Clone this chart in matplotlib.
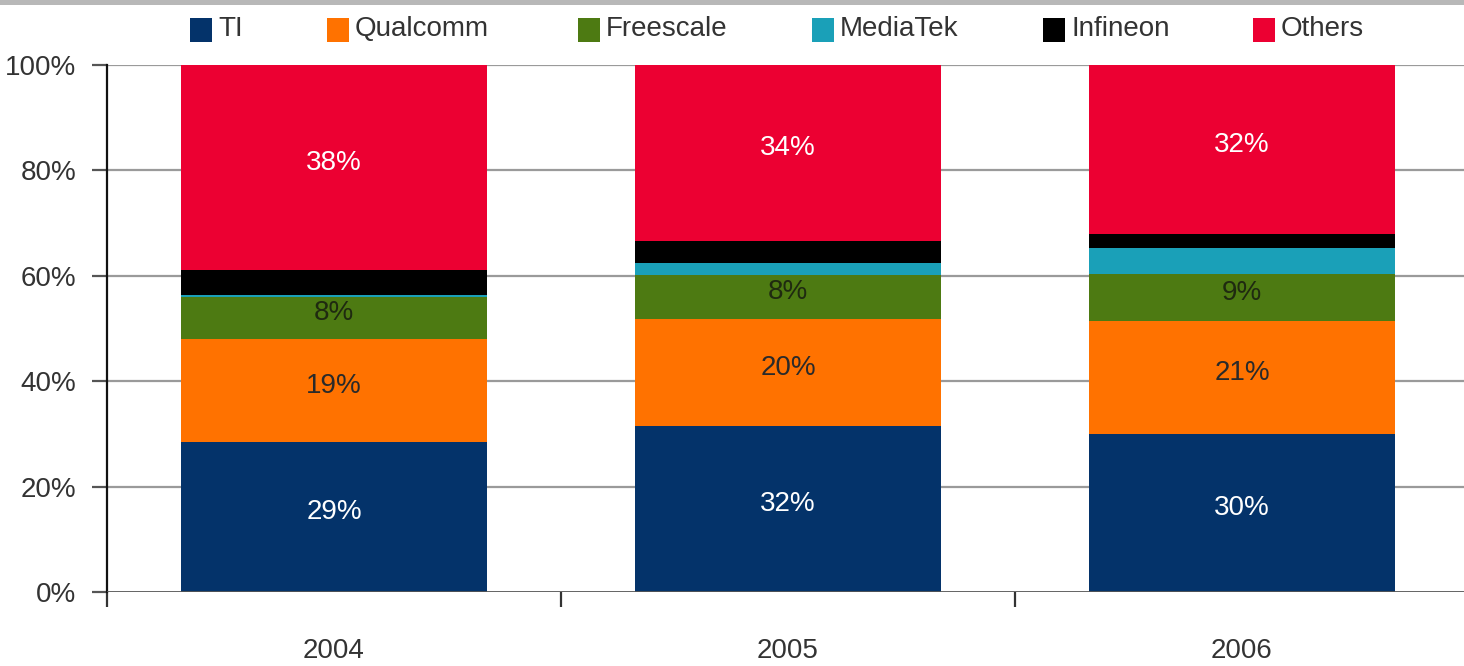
import matplotlib
matplotlib.use("Agg")
import matplotlib.pyplot as plt
from matplotlib.patches import Rectangle
import numpy as np

years = ["2004", "2005", "2006"]
companies = ["TI", "Qualcomm", "Freescale", "MediaTek", "Infineon", "Others"]
ti        = [28.4, 31.5, 30.0]
qualcomm  = [19.6, 20.3, 21.4]
freescale = [8.0, 8.4, 8.9]
mediatek  = [0.3, 2.2, 5.0]
infineon  = [4.8, 4.2, 2.6]
others    = [38.9, 33.4, 32.1]
series = [ti, qualcomm, freescale, mediatek, infineon, others]
colors = ["#04336a", "#ff7200", "#4d7a12", "#1aa0b8", "#000000", "#ec0032"]

# Shown labels (rounded in original)
label_ti = ["29%", "32%", "30%"]
label_q = ["19%", "20%", "21%"]
label_f = ["8%", "8%", "9%"]
label_o = ["38%", "34%", "32%"]
labels = {0: (label_ti, "white"), 1: (label_q, "#2a2a2a"),
          2: (label_f, "#1f2a10"), 5: (label_o, "white")}
yticks = [0, 20, 40, 60, 80, 100]
ytick_labels = ["0%", "20%", "40%", "60%", "80%", "100%"]

plt.rcParams['font.family'] = ['Liberation Sans', 'DejaVu Sans']

W, H = 1464, 666
fig = plt.figure(figsize=(W / 100, H / 100), dpi=100)
fig.patch.set_facecolor("white")
# top gray band
fig.add_artist(Rectangle((0, 1 - 5 / H), 1, 5 / H, transform=fig.transFigure,
                         facecolor="#b8b8b8", edgecolor="none"))

ax = fig.add_axes([107 / W, (H - 592) / H, (W - 107) / W, (592 - 65) / H])
x = np.arange(len(years))
bw = 0.676
bottom = np.zeros(len(years))
for i, (vals, c) in enumerate(zip(series, colors)):
    vals = np.array(vals)
    ax.bar(x, vals, bw, bottom=bottom, color=c, edgecolor="none", zorder=3, label=companies[i])
    if i in labels:
        txts, tc = labels[i]
        for j in range(len(years)):
            ax.text(x[j], bottom[j] + vals[j] / 2 + 0.9, txts[j], ha="center", va="center",
                    color=tc, fontsize=20, zorder=4)
    bottom += vals

ax.set_xlim(-0.5, 2.5 - 5 / 454)
ax.set_ylim(0, 100)
ax.set_yticks(yticks)
ax.set_yticklabels(ytick_labels)
for yv in yticks[1:]:
    ax.axhline(yv, color="#9a9a9a", lw=1.6, zorder=1)
ax.axhline(0, color="#555555", lw=2, zorder=5)
ax.set_xticks([-0.5, 0.5, 1.5], minor=False)
ax.set_xticklabels(["", "", ""])
ax.set_xticks(x, minor=True)
ax.set_xticklabels(years, minor=True)
ax.tick_params(axis="x", which="major", length=11, width=1.6, color="#333333", direction="out")
ax.tick_params(axis="x", which="minor", length=0, pad=33, labelsize=20, labelcolor="#333333")
ax.tick_params(axis="y", length=11, width=1.6, color="#555555", pad=11, labelsize=20, labelcolor="#333333")
for s in ["top", "right", "bottom"]:
    ax.spines[s].set_visible(False)
ax.spines["left"].set_color("#111111")
ax.spines["left"].set_linewidth(1.6)
ax.set_facecolor("white")

# legend
leg_x = [190, 327, 578, 812, 1043, 1253]
for name, lx, c in zip(companies, leg_x, colors):
    fig.add_artist(Rectangle((lx / W, 1 - 42 / H), 22 / W, 24 / H, transform=fig.transFigure,
                             facecolor=c, edgecolor="none"))
    fig.text((lx + 28) / W, 1 - 29 / H, name, ha="left", va="center", fontsize=20, color="#333333")

fig.savefig("out.png", dpi=100)
